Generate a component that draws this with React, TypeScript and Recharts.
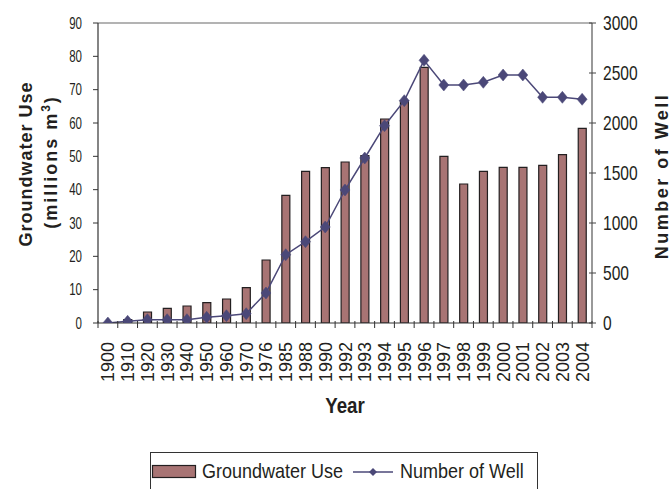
import React from 'react';
import { ComposedChart, Bar, Line, XAxis, YAxis, ReferenceLine, Legend } from 'recharts';

const years = ['1900', '1910', '1920', '1930', '1940', '1950', '1960', '1970', '1976', '1985', '1988', '1990', '1992', '1993', '1994', '1995', '1996', '1997', '1998', '1999', '2000', '2001', '2002', '2003', '2004'];
const groundwaterUse = [0, 1, 3.3, 4.4, 5.1, 6.1, 7.2, 10.6, 18.9, 38.3, 45.5, 46.6, 48.3, 50.2, 61.2, 66.7, 76.7, 50, 41.7, 45.5, 46.7, 46.7, 47.3, 50.5, 58.4];
const numberOfWells = [0, 17, 33, 33, 33, 57, 73, 93, 300, 683, 813, 960, 1330, 1650, 1973, 2223, 2627, 2380, 2380, 2407, 2480, 2480, 2257, 2257, 2237];
const leftTicks = [0, 10, 20, 30, 40, 50, 60, 70, 80, 90];
const rightTicks = [0, 500, 1000, 1500, 2000, 2500, 3000];

const data = years.map((year, i) => ({ year, use: groundwaterUse[i], wells: numberOfWells[i] }));

const FONT = "'Liberation Sans', Arial, Helvetica, sans-serif";
const TEXT = '#231f20';
const BAR_FILL = '#a87474';
const BAR_STROKE = '#231f20';
const LINE_COLOR = '#4b4878';

const XTick = (props: any) => {
  const { x, y, payload, index } = props;
  const half = payload && typeof payload.offset === 'number' && payload.offset > 0 ? payload.offset : 9.88;
  const isLast = index === years.length - 1;
  return (
    <g>
      <line x1={x - half} x2={x - half} y1={y - 2} y2={y + 5} stroke="#333" strokeWidth={1} />
      {isLast && <line x1={x + half} x2={x + half} y1={y - 2} y2={y + 5} stroke="#333" strokeWidth={1} />}
      <text
        transform={`translate(${x + 6.5},${y + 19}) rotate(-90)`}
        textAnchor="end"
        fontSize={18}
        fill={TEXT}
        fontFamily={FONT}
      >
        {payload.value}
      </text>
    </g>
  );
};

const LeftTick = (props: any) => {
  const { x, y, payload } = props;
  return (
    <text
      transform={`translate(${x},${y}) scale(0.72,1)`}
      textAnchor="end"
      dy="0.36em"
      fontSize={16}
      fill={TEXT}
      fontFamily={FONT}
    >
      {payload.value}
    </text>
  );
};

const RightTick = (props: any) => {
  const { x, y, payload } = props;
  const axisX = x - 11;
  return (
    <g>
      <line x1={axisX - 3} x2={axisX} y1={y} y2={y} stroke="#444" strokeWidth={1} />
      <text
        transform={`translate(${x},${y}) scale(0.78,1)`}
        textAnchor="start"
        dy="0.36em"
        fontSize={20}
        fill={TEXT}
        fontFamily={FONT}
      >
        {payload.value}
      </text>
    </g>
  );
};

const LeftTitle = (props: any) => {
  const vb = props.viewBox || { x: 0, y: 23, width: 98, height: 300 };
  const cy = vb.y + vb.height / 2;
  return (
    <g fontFamily={FONT} fontWeight="bold" fill={TEXT} fontSize={18}>
      <text transform={`translate(${vb.x + 32},${cy - 9}) rotate(-90)`} textAnchor="middle" letterSpacing={1}>
        Groundwater Use
      </text>
      <text transform={`translate(${vb.x + 57},${cy - 11}) rotate(-90)`} textAnchor="middle" letterSpacing={2}>
        (millions m
        <tspan dy={-7} fontSize={12}>3</tspan>
        <tspan dy={7}>)</tspan>
      </text>
    </g>
  );
};

const RightTitle = (props: any) => {
  const vb = props.viewBox || { x: 592, y: 23, width: 79, height: 300 };
  const cy = vb.y + vb.height / 2;
  return (
    <text
      transform={`translate(${vb.x + 76},${cy + 3}) rotate(-90)`}
      textAnchor="middle"
      fontFamily={FONT}
      fontWeight="bold"
      fontSize={18}
      letterSpacing={2.5}
      fill={TEXT}
    >
      Number of Well
    </text>
  );
};

const XTitle = (props: any) => {
  const vb = props.viewBox || { x: 98, y: 323, width: 494, height: 166 };
  return (
    <text
      transform={`translate(${vb.x + vb.width / 2},${vb.y + 90}) scale(0.85,1)`}
      textAnchor="middle"
      fontFamily={FONT}
      fontWeight="bold"
      fontSize={22}
      fill={TEXT}
    >
      Year
    </text>
  );
};

const Diamond = (props: any) => {
  const { cx, cy } = props;
  if (cx == null || cy == null) return <g />;
  const rx = 5;
  const ry = 6;
  return (
    <polygon
      points={`${cx},${cy - ry} ${cx + rx},${cy} ${cx},${cy + ry} ${cx - rx},${cy}`}
      fill={LINE_COLOR}
      stroke={LINE_COLOR}
      strokeWidth={0.5}
    />
  );
};

const LegendContent = () => (
  <svg width={390} height={37} style={{ display: 'block', overflow: 'hidden' }}>
    <rect x={0.5} y={0.5} width={387} height={60} fill="#fff" stroke="#333" strokeWidth={1} />
    <rect x={2.5} y={13.5} width={43} height={12} fill={BAR_FILL} stroke={BAR_STROKE} strokeWidth={1.2} />
    <text transform="translate(52,26) scale(0.9,1)" fontFamily={FONT} fontSize={20} fill={TEXT}>
      Groundwater Use
    </text>
    <line x1={203} x2={243} y1={20} y2={20} stroke={LINE_COLOR} strokeWidth={1.5} />
    <polygon points="223,16 227,20 223,24 219,20" fill={LINE_COLOR} />
    <text transform="translate(250,26) scale(0.9,1)" fontFamily={FONT} fontSize={20} fill={TEXT}>
      Number of Well
    </text>
  </svg>
);

export default function App() {
  return (
    <div style={{ position: 'absolute', left: 0, top: 0, width: 671, height: 489, background: '#fff' }}>
      <ComposedChart
        width={671}
        height={489}
        data={data}
        margin={{ top: 23, right: 0, bottom: 0, left: 0 }}
        barCategoryGap={0}
      >
        <XAxis
          dataKey="year"
          xAxisId="x"
          type="category"
          height={166}
          interval={0}
          tickLine={false}
          tickSize={0}
          tickMargin={0}
          tick={<XTick />}
          axisLine={{ stroke: '#333', strokeWidth: 1 }}
          label={<XTitle />}
        />
        <YAxis
          yAxisId="left"
          orientation="left"
          width={98}
          domain={[0, 90]}
          ticks={leftTicks}
          interval={0}
          tickSize={5}
          tickMargin={11}
          tickLine={{ stroke: '#333', strokeWidth: 1 }}
          axisLine={{ stroke: '#333', strokeWidth: 1.2 }}
          tick={<LeftTick />}
          label={<LeftTitle />}
          allowDataOverflow
        />
        <YAxis
          yAxisId="right"
          orientation="right"
          width={79}
          domain={[0, 3000]}
          ticks={rightTicks}
          interval={0}
          tickSize={4}
          tickMargin={7}
          tickLine={{ stroke: '#444', strokeWidth: 1 }}
          axisLine={{ stroke: '#555', strokeWidth: 1.2 }}
          tick={<RightTick />}
          label={<RightTitle />}
          allowDataOverflow
        />
        <ReferenceLine y={90} yAxisId="left" xAxisId="x" stroke="#9a9a9a" strokeWidth={1.5} />
        <Bar
          dataKey="use"
          xAxisId="x"
          yAxisId="left"
          fill={BAR_FILL}
          stroke={BAR_STROKE}
          strokeWidth={1.2}
          barSize={8}
          isAnimationActive={false}
        />
        <Line
          dataKey="wells"
          xAxisId="x"
          yAxisId="right"
          type="linear"
          stroke={LINE_COLOR}
          strokeWidth={1.5}
          dot={<Diamond />}
          activeDot={false}
          isAnimationActive={false}
        />
        <Legend
          verticalAlign="middle"
          align="center"
          layout="horizontal"
          content={<LegendContent />}
          wrapperStyle={{ left: 150, top: 452, width: 390, height: 37 }}
        />
      </ComposedChart>
    </div>
  );
}
